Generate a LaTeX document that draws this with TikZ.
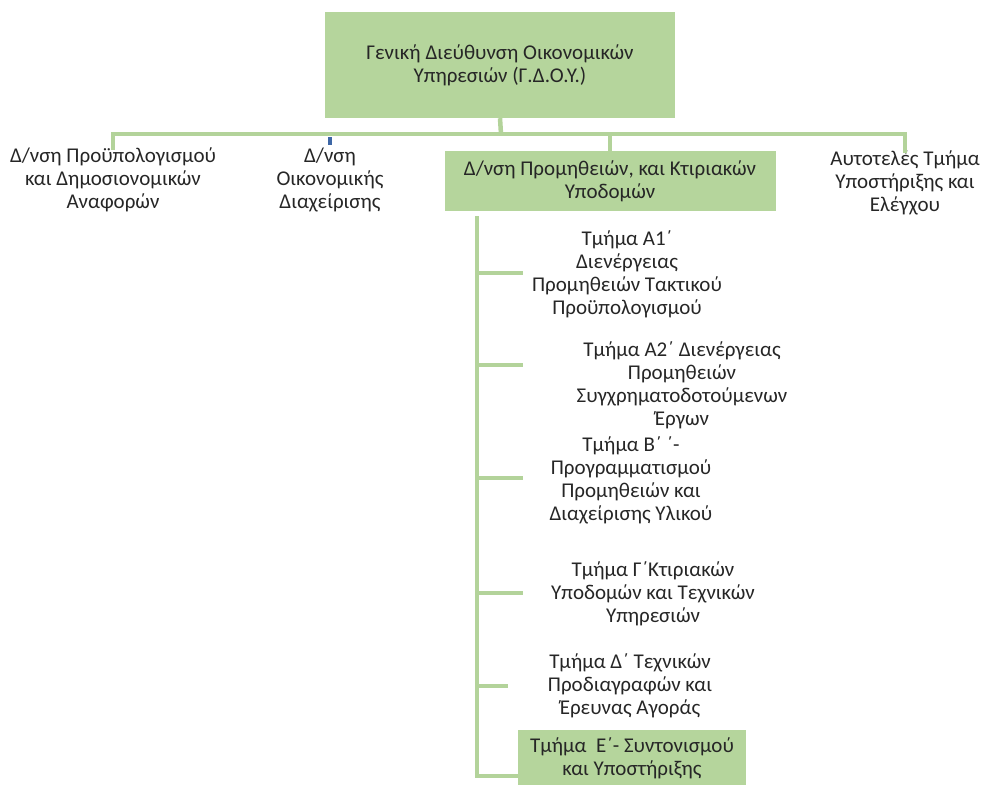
\documentclass[tikz,border=0pt]{standalone}
\usepackage{fontspec}
\setmainfont{Carlito}
\usepackage{tikz}
\usetikzlibrary{positioning}
\definecolor{orgfill}{HTML}{B5D59C}
\definecolor{orgline}{HTML}{B3D39A}
\definecolor{orgtick}{HTML}{3E67A6}
\tikzset{
  org-box/.style={fill=orgfill, draw=none, align=center, inner sep=0pt,
    font=\fontsize{21}{23}\selectfont, text=black!85},
  org-text/.style={align=center, inner sep=0pt,
    font=\fontsize{21}{23}\selectfont, text=black!85},
  org-link/.style={draw=orgline, line width=4.5pt},
  org-tick/.style={draw=orgtick, line width=4pt}
}

\begin{document}
\begin{tikzpicture}[x=1pt, y=-1pt]
  \useasboundingbox (0,0) rectangle (982,784);

  % General directorate
  \node[org-box, minimum width=350, minimum height=106] (gdoy) at (500,65)
    {Γενική Διεύθυνση Οικονομικών\\Υπηρεσιών (Γ.Δ.Ο.Υ.)};

  % Directorates
  \node[org-text] (budget) at (113,180)
    {Δ/νση Προϋπολογισμού\\και Δημοσιονομικών\\Αναφορών};
  \node[org-text] (finance) at (330,180)
    {Δ/νση\\Οικονομικής\\Διαχείρισης};
  \node[org-box, minimum width=331, minimum height=60] (supply) at (610,181)
    {Δ/νση Προμηθειών, και Κτιριακών\\Υποδομών};
  \node[org-text] (audit) at (905,183)
    {Αυτοτελές Τμήμα\\Υποστήριξης και\\Ελέγχου};

  % Departments under supply directorate
  \node[org-text] (unitA1) at (627,274)
    {Τμήμα Α1΄\\Διενέργειας\\Προμηθειών Τακτικού\\Προϋπολογισμού};
  \node[org-text] (unitA2) at (682,385)
    {Τμήμα Α2΄ Διενέργειας\\Προμηθειών\\Συγχρηματοδοτούμενων\\Έργων};
  \node[org-text] (unitB) at (631,480)
    {Τμήμα Β΄ ΄-\\Προγραμματισμού\\Προμηθειών και\\Διαχείρισης Υλικού};
  \node[org-text] (unitG) at (653,594)
    {Τμήμα Γ΄Κτιριακών\\Υποδομών και Τεχνικών\\Υπηρεσιών};
  \node[org-text] (unitD) at (630,686)
    {Τμήμα Δ΄ Τεχνικών\\Προδιαγραφών και\\Έρευνας Αγοράς};
  \node[org-box, minimum width=228, minimum height=56] (unitE) at (632,758)
    {Τμήμα \ Ε΄- Συντονισμού\\και Υποστήριξης};

  % Top level connectors
  \coordinate (hub) at (501,134);
  \draw[org-link] (gdoy.south) -- (hub);
  \draw[org-link] (hub) -| ([yshift=-2]budget.north);
  \draw[org-link] (hub) -| (supply.north);
  \draw[org-link] (hub) -| ([yshift=-2]audit.north);
  \draw[org-tick] (hub -| finance.north) ++(0,3) -- ++(0,8);

  % Spine with stubs
  \coordinate (spine) at (477,216);
  \coordinate (a1-in) at (523,273);
  \coordinate (a2-in) at (523,365);
  \coordinate (b-in) at (523,478);
  \coordinate (g-in) at (523,593);
  \coordinate (d-in) at (508,686);
  \draw[org-link] (spine) |- (unitE.west |- 0,776);
  \draw[org-link] (spine) |- (a1-in);
  \draw[org-link] (spine) |- (a2-in);
  \draw[org-link] (spine) |- (b-in);
  \draw[org-link] (spine) |- (g-in);
  \draw[org-link] (spine) |- (d-in);
\end{tikzpicture}
\end{document}
